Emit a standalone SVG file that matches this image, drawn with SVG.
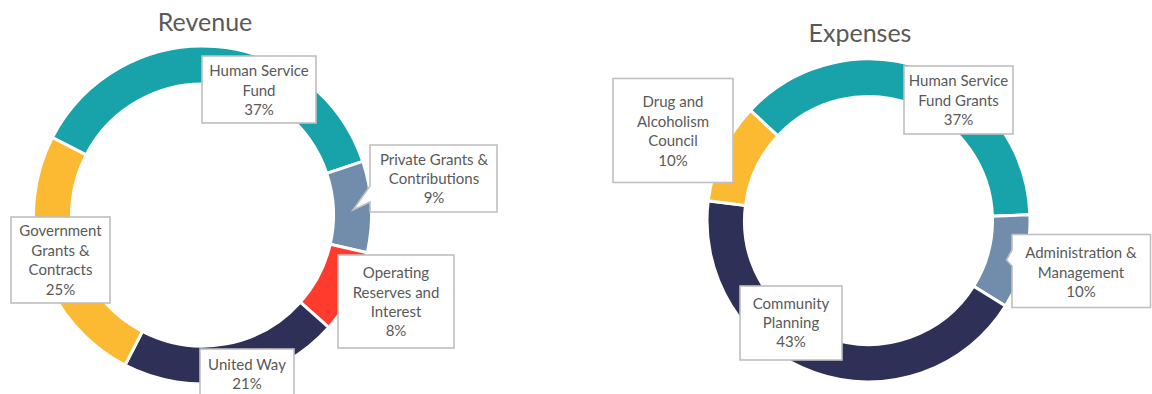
<svg xmlns="http://www.w3.org/2000/svg" width="1152" height="394" viewBox="0 0 1152 394">
<style>
.seg{stroke:#ffffff;stroke-width:3;stroke-linejoin:miter}
.teal{fill:#18A3AB}
.gray{fill:#728CAB}
.red{fill:#FF3B2E}
.navy{fill:#2E3057}
.yellow{fill:#FBBA32}
.box{fill:#ffffff;stroke:#bfbfbf;stroke-width:1.6}
.lbl{font-family:Lato,"Liberation Sans",sans-serif;font-size:15px;fill:#595959;text-anchor:middle}
.title{font-family:Lato,"Liberation Sans",sans-serif;font-size:25px;fill:#595959;text-anchor:middle}
</style>
<rect width="1152" height="394" fill="#ffffff"/>
<text class="title" x="205" y="31">Revenue</text>
<text class="title" x="860" y="42">Expenses</text>
<g id="revenue-donut">
<path id="rev-hsf" class="seg teal" d="M52.33,137.50 A169,169 0 0 1 362.77,161.38 L326.73,173.43 A131,131 0 0 0 86.09,154.92 Z"/>
<path id="rev-private" class="seg gray" d="M362.77,161.38 A169,169 0 0 1 367.24,252.74 L330.20,244.25 A131,131 0 0 0 326.73,173.43 Z"/>
<path id="rev-operating" class="seg red" d="M367.24,252.74 A169,169 0 0 1 328.68,327.42 L300.30,302.14 A131,131 0 0 0 330.20,244.25 Z"/>
<path id="rev-unitedway" class="seg navy" d="M328.68,327.42 A169,169 0 0 1 124.98,365.17 L142.41,331.41 A131,131 0 0 0 300.30,302.14 Z"/>
<path id="rev-government" class="seg yellow" d="M124.98,365.17 A169,169 0 0 1 52.33,137.50 L86.09,154.92 A131,131 0 0 0 142.41,331.41 Z"/>
</g>
<g id="expenses-donut">
<path id="exp-hsf" class="seg teal" d="M750.38,110.36 A161.5,161.5 0 0 1 1029.90,214.86 L992.42,216.17 A124,124 0 0 0 777.81,135.93 Z"/>
<path id="exp-admin" class="seg gray" d="M1029.90,214.86 A161.5,161.5 0 0 1 1005.45,306.08 L973.65,286.21 A124,124 0 0 0 992.42,216.17 Z"/>
<path id="exp-community" class="seg navy" d="M1005.45,306.08 A161.5,161.5 0 0 1 708.20,200.82 L745.42,205.39 A124,124 0 0 0 973.65,286.21 Z"/>
<path id="exp-drug" class="seg yellow" d="M708.20,200.82 A161.5,161.5 0 0 1 750.38,110.36 L777.81,135.93 A124,124 0 0 0 745.42,205.39 Z"/>
</g>
<g id="label-rev-hsf">
<rect class="box" x="202" y="56" width="114" height="67"/>
<text class="lbl" x="259" y="76">Human Service</text>
<text class="lbl" x="259" y="95.5">Fund</text>
<text class="lbl" x="259" y="115">37%</text>
</g>
<g id="label-rev-private">
<path class="box" d="M370,145 H497 V212 H370 V202 L353,210 L370,186 Z"/>
<text class="lbl" x="434" y="165">Private Grants &amp;</text>
<text class="lbl" x="434" y="184">Contributions</text>
<text class="lbl" x="434" y="203">9%</text>
</g>
<g id="label-rev-operating">
<rect class="box" x="338" y="255" width="116" height="93"/>
<text class="lbl" x="396" y="278">Operating</text>
<text class="lbl" x="396" y="297.5">Reserves and</text>
<text class="lbl" x="396" y="316.5">Interest</text>
<text class="lbl" x="396" y="336">8%</text>
</g>
<g id="label-rev-unitedway">
<rect class="box" x="200" y="349" width="94" height="60"/>
<text class="lbl" x="247" y="370">United Way</text>
<text class="lbl" x="247" y="389">21%</text>
</g>
<g id="label-rev-government">
<rect class="box" x="11" y="217" width="99" height="86"/>
<text class="lbl" x="60.5" y="235.5">Government</text>
<text class="lbl" x="60.5" y="255.5">Grants &amp;</text>
<text class="lbl" x="60.5" y="275">Contracts</text>
<text class="lbl" x="60.5" y="294.5">25%</text>
</g>
<g id="label-exp-drug">
<rect class="box" x="613" y="78.5" width="120" height="104"/>
<text class="lbl" x="673" y="106.5">Drug and</text>
<text class="lbl" x="673" y="126.5">Alcoholism</text>
<text class="lbl" x="673" y="146">Council</text>
<text class="lbl" x="673" y="165.5">10%</text>
</g>
<g id="label-exp-hsf">
<rect class="box" x="904" y="66" width="109" height="68"/>
<text class="lbl" x="958.5" y="86">Human Service</text>
<text class="lbl" x="958.5" y="105.5">Fund Grants</text>
<text class="lbl" x="958.5" y="124.5">37%</text>
</g>
<g id="label-exp-admin">
<path class="box" d="M1012,234.5 H1150.5 V307.5 H1012 V266 L1006.5,260 L1012,250 Z"/>
<text class="lbl" x="1081" y="258">Administration &amp;</text>
<text class="lbl" x="1081" y="277.5">Management</text>
<text class="lbl" x="1081" y="296.5">10%</text>
</g>
<g id="label-exp-community">
<rect class="box" x="740" y="286" width="102" height="74"/>
<text class="lbl" x="791" y="309">Community</text>
<text class="lbl" x="791" y="328">Planning</text>
<text class="lbl" x="791" y="347">43%</text>
</g>
</svg>
